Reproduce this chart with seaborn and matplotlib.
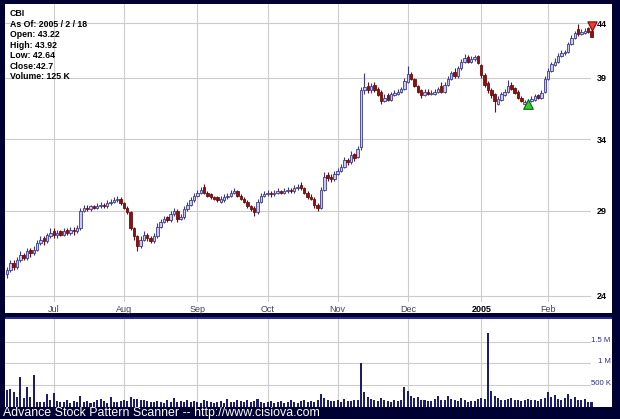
import numpy as np
import pandas as pd
import matplotlib
matplotlib.use("Agg")
import matplotlib.pyplot as plt
import seaborn as sns
from matplotlib.patches import Rectangle
from matplotlib.ticker import NullLocator, NullFormatter

sns.set_theme(style="white")
plt.rcParams["font.family"] = ["Liberation Sans", "DejaVu Sans"]

# ---------------- data ----------------
ticker = "CBI"
info_lines = ["CBI", "As Of: 2005 / 2 / 18", "Open: 43.22", "High: 43.92",
              "Low: 42.64", "Close:42.7", "Volume: 125 K"]
start_date = "2004-06-10"
end_date = "2005-02-18"
holidays = ["2004-06-11", "2004-07-05", "2004-09-06", "2004-11-25",
            "2004-12-24", "2005-01-17"]

opens = [25.2, 25.4, 25.8, 25.6, 26.0, 26.3, 26.1, 26.6, 26.4, 26.6, 27.0, 27.3, 27.1, 27.4,
         27.7, 27.5, 27.7, 27.5, 27.8, 27.6, 27.8, 27.7, 27.9, 29.0, 29.2, 29.1, 29.3, 29.2, 29.3, 29.4, 29.3, 29.5, 29.6, 29.7, 29.8,
         29.5, 29.2, 28.9, 27.9, 27.4, 26.8, 27.2, 27.5, 27.3, 27.1, 27.4, 28.0, 28.3, 28.6, 28.4, 28.8, 29.0, 28.5, 28.6, 29.1, 29.4, 29.7,
         30.0, 30.2, 30.6, 30.2, 30.1, 29.9, 29.9, 29.6, 29.7, 29.9, 30.0, 30.2, 30.3, 30.0, 29.8, 29.6, 29.3, 29.2, 28.9, 29.6, 30.0,
         30.1, 30.2, 30.1, 30.2, 30.3, 30.2, 30.3, 30.4, 30.3, 30.5, 30.7, 30.5, 30.2, 29.9, 29.8, 29.4, 29.2, 30.4, 31.4, 31.3, 31.1,
         31.5, 31.7, 32.0, 32.5, 32.3, 32.9, 32.7, 33.4, 37.9, 38.3, 37.9, 38.4, 38.0, 37.8, 37.0, 37.5, 37.1, 37.5, 37.6, 37.8, 38.0,
         38.6, 39.3, 38.9, 38.3, 37.9, 37.5, 37.8, 37.6, 37.6, 37.8, 38.3, 37.8, 38.4, 38.9, 39.5, 39.1, 39.8, 40.4, 40.8, 40.4, 40.6, 40.9,
         40.1, 39.2, 38.5, 37.9, 37.6, 36.8, 37.1, 37.5, 37.8, 38.4, 38.1, 37.8, 37.3, 36.8, 36.8, 37.0, 37.1, 37.5, 37.3, 37.8,
         38.9, 39.6, 40.1, 40.4, 40.9, 41.2, 41.3, 42.0, 42.6, 43.4, 43.0, 43.1, 43.5, 43.22]
highs = [25.6, 26.0, 26.0, 26.2, 26.5, 26.4, 26.7, 26.7, 26.8, 27.2, 27.4, 27.4, 27.6, 27.9,
         27.9, 27.8, 27.8, 27.9, 27.9, 28.0, 28.0, 28.1, 29.2, 29.4, 29.4, 29.4, 29.4, 29.5, 29.6, 29.5, 29.7, 29.8, 29.9, 30.0, 29.9,
         29.6, 29.3, 29.0, 28.0, 27.5, 27.4, 27.7, 27.6, 27.4, 27.6, 28.2, 28.5, 28.7, 28.7, 29.0, 29.2, 29.1, 28.8, 29.3, 29.6, 29.9, 30.2,
         30.4, 30.6, 30.8, 30.3, 30.2, 30.0, 30.0, 30.0, 30.1, 30.2, 30.4, 30.5, 30.4, 30.1, 29.9, 29.7, 29.4, 29.3, 29.8, 30.2, 30.3,
         30.4, 30.3, 30.4, 30.5, 30.4, 30.5, 30.6, 30.5, 30.7, 30.8, 30.9, 30.6, 30.3, 30.1, 29.9, 29.5, 30.6, 31.6, 31.6, 31.5, 31.7,
         31.9, 32.2, 32.7, 32.6, 33.1, 33.0, 33.5, 38.2, 39.4, 38.6, 38.5, 38.6, 38.2, 37.9, 37.6, 37.7, 37.8, 37.9, 38.0, 38.2, 39.0,
         40.0, 39.5, 39.0, 38.4, 38.0, 38.0, 38.0, 37.9, 38.0, 38.2, 38.6, 38.6, 39.1, 39.6, 39.8, 40.0, 40.6, 41.1, 41.0, 40.9, 41.0, 41.0,
         40.2, 39.4, 38.7, 38.1, 37.7, 37.4, 37.8, 38.0, 38.8, 38.6, 38.2, 37.9, 37.4, 37.1, 37.2, 37.4, 37.6, 37.6, 37.9, 39.1,
         39.8, 40.4, 40.7, 41.2, 41.5, 41.5, 42.2, 42.9, 43.3, 43.9, 43.4, 43.5, 43.6, 43.92]
lows = [25.0, 25.3, 25.4, 25.5, 25.9, 26.0, 26.0, 26.2, 26.3, 26.5, 26.9, 26.9, 27.0, 27.3,
        27.3, 27.3, 27.4, 27.4, 27.5, 27.5, 27.5, 27.6, 27.8, 28.9, 29.0, 29.0, 29.1, 29.1, 29.2, 29.2, 29.2, 29.4, 29.5, 29.6, 29.4,
        29.1, 28.8, 27.8, 27.2, 26.5, 26.7, 27.1, 27.1, 27.0, 27.0, 27.3, 27.9, 28.2, 28.3, 28.3, 28.7, 28.3, 28.4, 28.5, 29.0, 29.3, 29.6,
        29.9, 30.1, 30.1, 29.9, 29.8, 29.7, 29.6, 29.5, 29.6, 29.8, 29.9, 30.1, 29.9, 29.7, 29.5, 29.2, 29.0, 28.7, 28.8, 29.5, 29.9,
        30.0, 29.9, 30.0, 30.1, 30.1, 30.1, 30.2, 30.2, 30.2, 30.4, 30.4, 30.1, 29.8, 29.7, 29.2, 29.0, 29.1, 30.3, 31.0, 30.9, 31.0,
        31.4, 31.6, 31.9, 32.1, 32.2, 32.4, 32.6, 33.2, 37.6, 37.7, 37.7, 37.8, 37.4, 36.8, 36.9, 37.0, 37.0, 37.4, 37.5, 37.7, 37.9,
        38.5, 38.8, 38.2, 37.7, 37.3, 37.4, 37.5, 37.5, 37.5, 37.7, 37.7, 37.7, 38.3, 38.8, 39.0, 39.0, 39.7, 40.3, 40.3, 40.3, 40.5, 40.2,
        39.0, 38.2, 37.7, 37.3, 36.1, 36.7, 37.0, 37.4, 37.7, 37.9, 37.6, 37.2, 36.9, 36.7, 36.7, 36.9, 37.0, 37.2, 37.2, 37.7,
        38.8, 39.5, 40.0, 40.3, 40.8, 41.0, 41.2, 41.9, 42.5, 42.8, 42.9, 43.0, 43.1, 42.64]
closes = [25.4, 25.8, 25.6, 26.0, 26.3, 26.1, 26.5, 26.4, 26.6, 27.0, 27.2, 27.1, 27.5, 27.6,
          27.5, 27.6, 27.5, 27.7, 27.6, 27.8, 27.7, 27.9, 29.0, 29.2, 29.1, 29.3, 29.2, 29.3, 29.4, 29.3, 29.5, 29.6, 29.7, 29.8, 29.5,
          29.2, 28.9, 27.9, 27.4, 26.8, 27.2, 27.5, 27.3, 27.1, 27.4, 28.0, 28.3, 28.5, 28.4, 28.8, 29.0, 28.5, 28.6, 29.1, 29.4, 29.7, 30.0,
          30.2, 30.4, 30.2, 30.0, 29.9, 29.8, 29.7, 29.8, 29.9, 30.0, 30.2, 30.3, 30.0, 29.8, 29.6, 29.3, 29.1, 28.9, 29.6, 30.0, 30.1,
          30.2, 30.1, 30.2, 30.3, 30.2, 30.3, 30.4, 30.3, 30.5, 30.6, 30.5, 30.2, 29.9, 29.8, 29.4, 29.2, 30.4, 31.3, 31.2, 31.1, 31.5,
          31.7, 32.0, 32.5, 32.3, 32.8, 32.6, 33.3, 37.9, 38.2, 37.9, 38.3, 37.9, 37.5, 37.0, 37.3, 37.1, 37.6, 37.7, 37.8, 38.0, 38.7,
          39.3, 38.9, 38.3, 37.8, 37.5, 37.8, 37.6, 37.7, 37.8, 38.0, 37.8, 38.4, 38.9, 39.4, 39.1, 39.8, 40.4, 40.7, 40.4, 40.6, 40.8, 40.3,
          39.2, 38.4, 37.9, 37.5, 37.0, 37.2, 37.6, 37.8, 38.3, 38.0, 37.7, 37.3, 37.0, 36.9, 37.0, 37.2, 37.4, 37.3, 37.7, 38.9,
          39.6, 40.2, 40.4, 40.9, 41.2, 41.3, 42.0, 42.6, 43.1, 43.0, 43.2, 43.3, 43.2, 42.7]
volumes_k = [400, 410, 340, 230, 680, 210, 450, 230, 730, 110, 120, 110, 300, 150,
             320, 130, 110, 120, 150, 100, 130, 120, 250, 110, 140, 90, 120, 150, 180, 130, 100, 230, 120, 110, 140,
             150, 130, 230, 180, 190, 170, 150, 130, 120, 110, 140, 120, 100, 150, 120, 200, 110, 130, 120, 150, 110, 140,
             120, 100, 160, 130, 110, 90, 120, 140, 100, 180, 120, 110, 150, 130, 120, 160, 110, 130, 180, 120, 100,
             110, 130, 90, 120, 140, 100, 110, 150, 120, 100, 130, 160, 120, 140, 110, 170, 300, 200, 150, 130, 140,
             160, 120, 180, 140, 130, 150, 170, 1000, 350, 220, 180, 160, 140, 200, 150, 130, 120, 170, 140, 160, 450,
             360, 250, 200, 230, 170, 150, 130, 140, 180, 250, 160, 150, 250, 180, 160, 140, 200, 150, 120, 130, 140, 180,
             200, 180, 1700, 360, 260, 200, 150, 170, 180, 200, 160, 150, 140, 170, 180, 150, 160, 140, 180, 200,
             340, 220, 280, 190, 160, 200, 300, 180, 240, 170, 150, 190, 110, 125]

month_labels = ["Jul", "Aug", "Sep", "Oct", "Nov", "Dec", "2005", "Feb"]
price_ticks = [24, 29, 34, 39, 44]
volume_ticks = [500_000, 1_000_000, 1_500_000]
volume_tick_labels = ["500 K", "1 M", "1.5 M"]
signal_up_idx = [156]
signal_up_price = [36.8]
signal_down_idx = [175]
signal_down_price = [43.7]

# ---------------- derived ----------------
dates = pd.bdate_range(start_date, end_date, freq="C", holidays=holidays)
n = len(closes)
assert len(dates) == n == len(opens) == len(highs) == len(lows) == len(volumes_k)
idx = np.arange(n)
o = np.array(opens); h = np.array(highs); l = np.array(lows); c = np.array(closes)
vol = np.array(volumes_k) * 1000.0
ym = dates.to_period("M")
month_pos = [i for i in range(1, n) if ym[i] != ym[i - 1]]

W, H = 620, 419
BG = "#000033"
GRID = "#cccccc"
fig = plt.figure(figsize=(W / 100, H / 100), dpi=100, facecolor=BG)


def box(x0, y0, x1, y1):
    return [x0 / W, 1 - y1 / H, (x1 - x0) / W, (y1 - y0) / H]


# white panels / separator
fig.add_artist(Rectangle((5 / W, 1 - 313 / H), 607 / W, 309 / H, transform=fig.transFigure,
                         facecolor="white", edgecolor="none", zorder=0))
fig.add_artist(Rectangle((5 / W, 1 - 319 / H), 607 / W, 2 / H, transform=fig.transFigure,
                         facecolor="#2a2a9c", edgecolor="none", zorder=0))

XL = ((5 - 7) / 3.34, (612 - 7) / 3.34)

# ---------------- price panel ----------------
ax = fig.add_axes(box(5, 4, 612, 302))
ax.set_facecolor("white")
ax.set_yscale("log")
ax.set_xlim(*XL)
ax.set_ylim(23.68, 45.93)
for s in ax.spines.values():
    s.set_visible(False)
ax.set_axisbelow(True)

up = c >= o
wick_col = np.where(up, "#3a3a8c", "#6e0b0b")
ax.vlines(idx, l, h, colors=wick_col, lw=0.8, zorder=2)
body_bot = np.minimum(o, c)
body_h = np.maximum(np.abs(c - o), 0.02)
ax.bar(idx[up], body_h[up], bottom=body_bot[up], width=0.72,
       color="#c8c8f0", edgecolor="#3a3a90", linewidth=0.6, zorder=3)
ax.bar(idx[~up], body_h[~up], bottom=body_bot[~up], width=0.72,
       color="#861414", edgecolor="#6e0b0b", linewidth=0.6, zorder=3)

ax.scatter(signal_up_idx, signal_up_price, marker="^", s=48, facecolor="#33cc33",
           edgecolor="#0a6a0a", linewidth=0.8, zorder=5)
ax.scatter(signal_down_idx, signal_down_price, marker="v", s=44, facecolor="#ee3b3b",
           edgecolor="#8a0000", linewidth=0.8, zorder=5)

ax.set_xticks(month_pos)
ax.set_xticklabels(month_labels)
ax.grid(axis="x", color=GRID, lw=0.8)
for t in price_ticks:
    ax.axhline(t, xmax=(590 - 5) / 607, color=GRID, lw=0.8, zorder=0)
ax.yaxis.set_minor_locator(NullLocator())
ax.yaxis.set_minor_formatter(NullFormatter())
ax.set_yticks(price_ticks)
ax.set_yticklabels([str(t) for t in price_ticks])
ax.yaxis.tick_right()
ax.tick_params(axis="y", length=0, pad=-10.8, labelsize=6.5, labelcolor="black")
for lab in ax.get_yticklabels():
    lab.set_fontweight("bold")
ax.tick_params(axis="x", length=0, pad=2, labelsize=6.5, labelcolor="#444444")
for lab in ax.get_xticklabels():
    if lab.get_text().isdigit():
        lab.set_fontweight("bold")
        lab.set_color("black")
ax.set_xlabel(""); ax.set_ylabel("")

for k, line in enumerate(info_lines):
    fig.text(10 / W, 1 - (14 + 10.45 * k) / H, line, fontsize=6.3, fontweight="bold",
             color="black", va="center", ha="left")

# ---------------- volume panel ----------------
axv = fig.add_axes(box(5, 319, 612, 407))
axv.set_facecolor("white")
vdf = pd.DataFrame({"i": idx, "v": vol})
sns.barplot(data=vdf, x="i", y="v", native_scale=True, color="#1c1c6e", width=0.6,
            errorbar=None, saturation=1, linewidth=0, ax=axv)
axv.set_xlim(*XL)
axv.set_ylim(0, 2.02e6)
for s in axv.spines.values():
    s.set_visible(False)
axv.set_axisbelow(True)
axv.set_xticks(month_pos)
axv.set_xticklabels([])
axv.grid(axis="x", color=GRID, lw=0.8)
for t in volume_ticks:
    axv.axhline(t, xmax=(590 - 5) / 607, color=GRID, lw=0.8, zorder=0)
axv.set_yticks(volume_ticks)
axv.set_yticklabels(volume_tick_labels)
axv.yaxis.tick_right()
axv.tick_params(axis="y", length=0, pad=-1, labelsize=5.6, labelcolor="#2a2a8a")
axv.tick_params(axis="x", length=0)
for lab in axv.get_yticklabels():
    lab.set_horizontalalignment("right")
    lab.set_verticalalignment("baseline")
axv.set_xlabel(""); axv.set_ylabel("")

fig.text(3 / W, 1 - 413 / H, "Advance Stock Pattern Scanner -- http://www.cisiova.com",
         color="white", fontsize=8.9, va="center", ha="left")

fig.savefig("out.png", dpi=100, facecolor=BG)
